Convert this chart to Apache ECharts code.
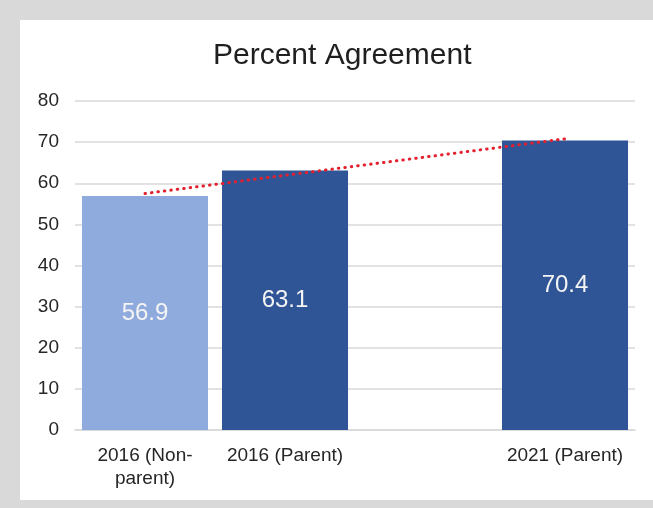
<!DOCTYPE html>
<html>
<head>
<meta charset="utf-8">
<script src="https://cdn.jsdelivr.net/npm/echarts@6/dist/echarts.min.js"></script>
<style>
html,body{margin:0;padding:0;background:#d9d9d9;}
#chart{width:653px;height:508px;}
</style>
</head>
<body>
<div id="chart"></div>
<script>
var categories = ['2016 (Non-\nparent)', '2016 (Parent)', '', '2021 (Parent)'];
var values = [56.9, 63.1, null, 70.4];
var barColors = ['#8faadc', '#2f5597', '#2f5597', '#2f5597'];
var trendValues = [57.5, null, null, 70.8];
var yTicks = [0, 10, 20, 30, 40, 50, 60, 70, 80];

var chart = echarts.init(document.getElementById('chart'), null, {renderer: 'canvas'});
var option = {
  backgroundColor: '#d9d9d9',
  animation: false,
  graphic: [{
    type: 'rect', z: -10, silent: true,
    shape: {x: 20, y: 20, width: 640, height: 480},
    style: {fill: '#ffffff'}
  }],
  title: {
    text: 'Percent Agreement',
    left: 208, top: 36,
    textStyle: {fontFamily: 'Liberation Sans, Arial, sans-serif', fontSize: 30, fontWeight: 'normal', color: '#1f1f1f'}
  },
  grid: {left: 75, right: 18, top: 101, bottom: 78, containLabel: false},
  xAxis: {
    type: 'category',
    data: categories,
    axisLine: {show: true, lineStyle: {color: '#d9d9d9', width: 1.5}},
    axisTick: {show: false},
    axisLabel: {
      interval: 0, margin: 14, color: '#262626',
      fontFamily: 'Liberation Sans, Arial, sans-serif', fontSize: 19, lineHeight: 23
    }
  },
  yAxis: {
    type: 'value',
    min: yTicks[0], max: yTicks[yTicks.length - 1], interval: 10,
    axisLine: {show: false},
    axisTick: {show: false},
    splitLine: {lineStyle: {color: '#d9d9d9', width: 1.5}},
    axisLabel: {
      margin: 16, color: '#262626',
      fontFamily: 'Liberation Sans, Arial, sans-serif', fontSize: 19
    }
  },
  series: [{
    type: 'bar',
    barCategoryGap: '10%',
    data: values.map(function (v, i) {
      return {value: v, itemStyle: {color: barColors[i]}};
    }),
    label: {
      show: true, position: 'inside', color: '#f4f4f4',
      fontFamily: 'Liberation Sans, Arial, sans-serif', fontSize: 24,
      formatter: function (p) { return p.value == null ? '' : p.value.toFixed(1); }
    },
    z: 2
  }, {
    type: 'line',
    data: trendValues,
    connectNulls: true,
    symbol: 'none',
    lineStyle: {color: '#e3202d', width: 3, type: [0.5, 6], cap: 'round'},
    z: 5
  }]
};
chart.setOption(option);
</script>
</body>
</html>
